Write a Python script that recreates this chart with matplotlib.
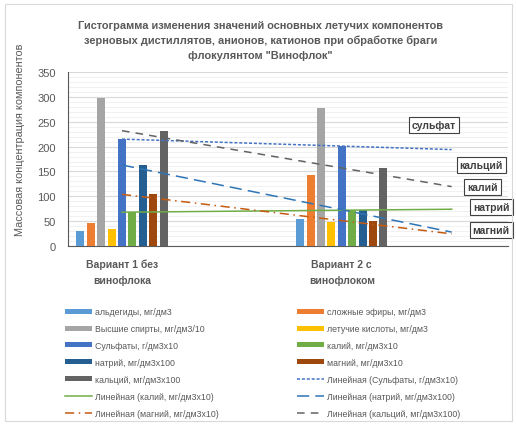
import numpy as np
import matplotlib.pyplot as plt
from matplotlib.patches import Rectangle

plt.rcParams['font.family'] = ['Liberation Sans', 'DejaVu Sans']

categories = ['Вариант 1 без\nвинофлока', 'Вариант 2 с\nвинофлоком']
series_names = ['альдегиды, мг/дм3', 'сложные эфиры, мг/дм3', 'Высшие спирты, мг/дм3/10',
                'летучие кислоты, мг/дм3', 'Сульфаты, г/дм3х10', 'калий, мг/дм3х10',
                'натрий, мг/дм3х100', 'магний, мг/дм3х10', 'кальций, мг/дм3х100']
aldehydes = [31, 55]
esters = [47, 143]
alcohols = [298, 277]
acids = [34, 49]
sulfates = [215, 201]
potassium = [68, 72]
sodium = [163, 73]
magnesium = [104, 51]
calcium = [232, 157]
values = [aldehydes, esters, alcohols, acids, sulfates, potassium, sodium, magnesium, calcium]
colors = ['#5B9BD5', '#ED7D31', '#A5A5A5', '#FFC000', '#4472C4', '#70AD47', '#255E91', '#9E480E', '#636363']

# trendlines: (series index, colour, linestyle, label)
trends = [(4, '#4472C4', (0, (2, 1.2)), 'Линейная (Сульфаты, г/дм3х10)'),
          (5, '#70AD47', '-', 'Линейная (калий, мг/дм3х10)'),
          (6, '#2E75B6', (0, (8, 4)), 'Линейная (натрий, мг/дм3х100)'),
          (7, '#C55A11', (0, (6, 3, 1, 3)), 'Линейная (магний, мг/дм3х10)'),
          (8, '#636363', (0, (5, 4)), 'Линейная (кальций, мг/дм3х100)')]
tags = ['сульфат', 'кальций', 'калий', 'натрий', 'магний']
tag_pos = [(1.42, 243), (1.635, 163), (1.64, 119), (1.68, 78), (1.68, 32)]

fig = plt.figure(figsize=(5.16, 4.27), dpi=100)
fig.patches.append(Rectangle((0.01, 0.012), 0.982, 0.976, transform=fig.transFigure,
                             fill=False, edgecolor='#D9D9D9', linewidth=0.8))
ax = fig.add_axes([0.132, 0.4215, 0.852, 0.4075])

x = np.arange(len(categories))
step = 0.0473
width = 0.036
handles = []
for i, (vals, c) in enumerate(zip(values, colors)):
    off = (i - 4) * step
    b = ax.bar(x + off, vals, width, color=c, label=series_names[i], zorder=3)
    handles.append(b)

tx = np.array([0, 1.5])
for idx, c, ls, lab in trends:
    v = values[idx]
    slope = v[1] - v[0]
    ln, = ax.plot(tx, v[0] + slope * tx, color=c, linestyle=ls, linewidth=1.1, label=lab, zorder=4)
    handles.append(ln)

for t, (px, py) in zip(tags, tag_pos):
    ax.text(px, py, t, ha='center', va='center', fontsize=7.5, fontweight='bold', color='#404040',
            bbox=dict(boxstyle='square,pad=0.3', facecolor='white', edgecolor='#404040', linewidth=0.8),
            clip_on=False, zorder=6)

ax.set_xlim(-0.245, 1.755)
ax.set_ylim(0, 350)
ax.set_yticks(np.arange(0, 351, 50))
ax.set_yticks(np.arange(0, 351, 10), minor=True)
ax.grid(axis='y', which='major', color='#D9D9D9', linewidth=0.8, zorder=0)
ax.grid(axis='y', which='minor', color='#EFEFEF', linewidth=0.6, zorder=0)
ax.set_xticks(x)
ax.set_xticklabels(categories, fontsize=7.5, fontweight='bold', color='#595959', linespacing=1.75)
ax.tick_params(axis='x', length=0, pad=9)
ax.tick_params(axis='y', which='both', length=0, labelsize=8, labelcolor='#595959', pad=9)
for s in ['top', 'right']:
    ax.spines[s].set_visible(False)
ax.spines['left'].set_color('#595959')
ax.spines['bottom'].set_color('#595959')
ax.set_ylabel('Массовая концентрация компонентов', fontsize=7.8, color='#595959')
ax.yaxis.set_label_coords(-0.098, 0.615)

ax.set_title('Гистограмма изменения значений основных летучих компонентов\n'
             'зерновых дистиллятов, анионов, катионов при обработке браги\n'
             'флокулянтом "Винофлок"', fontsize=7.9, fontweight='bold', color='#595959',
             linespacing=1.6, pad=10, x=0.437)

# legend: two columns placed separately, rows as in the reference
col1 = [handles[i] for i in range(0, 14, 2)]
col2 = [handles[i] for i in range(1, 14, 2)]
leg_kw = dict(loc='upper left', frameon=False, fontsize=6.3, labelcolor='#595959',
              handlelength=3.1, handleheight=0.5, labelspacing=0.9, handletextpad=0.35,
              borderaxespad=0, borderpad=0)
leg1 = fig.legend(col1, [h.get_label() for h in col1], bbox_to_anchor=(0.125, 0.278), **leg_kw)
leg2 = fig.legend(col2, [h.get_label() for h in col2], bbox_to_anchor=(0.576, 0.278), **leg_kw)

fig.savefig('out.png', dpi=100)
